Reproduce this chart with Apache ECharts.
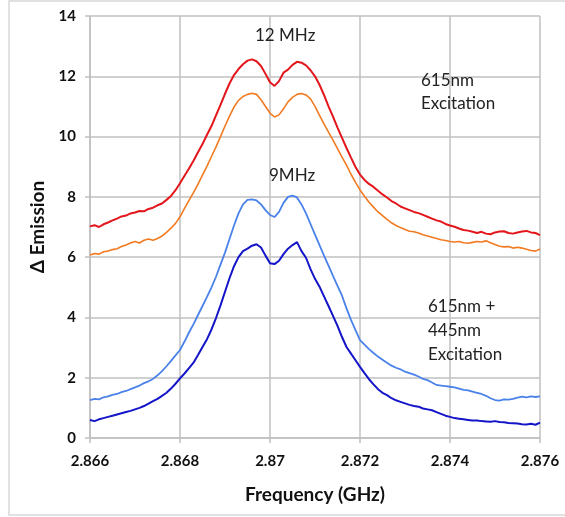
<!DOCTYPE html>
<html><head><meta charset="utf-8">
<script src="https://cdn.jsdelivr.net/npm/echarts@6/dist/echarts.min.js"></script>
<style>html,body{margin:0;padding:0;background:#fff}#c{width:565px;height:517px}</style>
</head><body><div id="c"></div>
<script>
// Frequency sampling grid (GHz)
const freqStart = 2.866;
const freqStep = 0.0001;
const nPoints = 101;
const xTicks = [2.866, 2.868, 2.87, 2.872, 2.874, 2.876];
const yTicks = [0, 2, 4, 6, 8, 10, 12, 14];

// 615nm excitation (upper pair)
const red615 = [7.02,7.06,7.00,7.09,7.15,7.22,7.28,7.35,7.38,7.45,
7.48,7.53,7.52,7.60,7.64,7.72,7.78,7.90,8.03,8.22,
8.45,8.70,8.94,9.20,9.48,9.75,10.06,10.35,10.70,11.05,
11.42,11.76,12.04,12.24,12.40,12.52,12.56,12.50,12.34,12.08,
11.80,11.68,11.84,12.12,12.22,12.38,12.48,12.45,12.36,12.20,
12.00,11.72,11.38,11.00,10.66,10.30,9.96,9.62,9.30,8.99,
8.74,8.56,8.43,8.33,8.20,8.08,7.98,7.86,7.78,7.68,
7.62,7.56,7.50,7.46,7.40,7.34,7.28,7.22,7.18,7.10,
7.05,7.01,6.95,6.90,6.88,6.84,6.80,6.84,6.78,6.76,
6.82,6.85,6.86,6.80,6.78,6.82,6.85,6.87,6.82,6.80,
6.73];
const orange615 = [6.07,6.12,6.10,6.18,6.20,6.25,6.28,6.35,6.40,6.47,
6.52,6.47,6.56,6.60,6.56,6.62,6.70,6.82,6.96,7.12,
7.34,7.62,7.88,8.14,8.42,8.72,9.02,9.34,9.66,10.00,
10.35,10.68,10.98,11.20,11.33,11.40,11.44,11.40,11.22,11.00,
10.78,10.65,10.72,10.92,11.15,11.30,11.40,11.43,11.38,11.25,
11.00,10.70,10.42,10.15,9.88,9.60,9.32,9.05,8.75,8.48,
8.23,8.02,7.82,7.66,7.50,7.38,7.25,7.14,7.05,6.98,
6.92,6.86,6.84,6.80,6.74,6.70,6.66,6.62,6.58,6.55,
6.52,6.50,6.52,6.48,6.46,6.49,6.52,6.50,6.54,6.48,
6.42,6.36,6.34,6.35,6.30,6.33,6.30,6.26,6.22,6.20,
6.27];
// 615nm + 445nm excitation (lower pair)
const lightBlue = [1.26,1.30,1.28,1.35,1.38,1.43,1.46,1.52,1.56,1.62,
1.68,1.74,1.82,1.88,1.96,2.08,2.22,2.38,2.56,2.74,
2.92,3.20,3.50,3.78,4.08,4.38,4.68,5.00,5.35,5.75,
6.15,6.60,7.05,7.45,7.75,7.90,7.92,7.88,7.75,7.56,
7.40,7.33,7.50,7.80,8.00,8.04,7.98,7.75,7.45,7.10,
6.75,6.40,6.05,5.72,5.38,5.05,4.72,4.30,3.92,3.58,
3.25,3.10,2.95,2.82,2.70,2.60,2.50,2.40,2.33,2.28,
2.20,2.15,2.10,2.04,1.96,1.92,1.84,1.76,1.74,1.72,
1.70,1.68,1.64,1.60,1.58,1.54,1.50,1.46,1.40,1.32,
1.26,1.24,1.28,1.27,1.30,1.34,1.37,1.35,1.38,1.36,
1.38];
const darkBlue = [0.60,0.56,0.62,0.66,0.70,0.74,0.78,0.82,0.86,0.90,
0.95,1.00,1.06,1.14,1.22,1.30,1.40,1.50,1.64,1.80,
1.98,2.14,2.32,2.50,2.75,3.02,3.28,3.60,3.98,4.40,
4.85,5.30,5.70,6.00,6.20,6.28,6.38,6.43,6.32,6.05,
5.80,5.77,5.88,6.10,6.28,6.40,6.50,6.20,5.98,5.60,
5.28,5.02,4.70,4.38,4.05,3.72,3.35,3.02,2.80,2.58,
2.36,2.15,1.95,1.78,1.62,1.50,1.42,1.32,1.25,1.20,
1.15,1.10,1.06,1.04,0.98,0.95,0.92,0.86,0.80,0.74,
0.70,0.66,0.64,0.62,0.60,0.58,0.58,0.56,0.55,0.54,
0.56,0.53,0.52,0.50,0.49,0.48,0.46,0.45,0.47,0.44,
0.51];

const freqs = [];
for (let i = 0; i < nPoints; i++) freqs.push(+(freqStart + i * freqStep).toFixed(4));
const pairs = arr => arr.map((v, i) => [freqs[i], v]);

const chart = echarts.init(document.getElementById('c'), null, {renderer: 'canvas'});
const FONT = 'Lato, "Open Sans", sans-serif';
const gridCol = '#c0c0c0';
function line(name, data, color, w) {
  return {name, type: 'line', data: pairs(data), showSymbol: false, symbol: 'none',
    lineStyle: {color, width: w}, itemStyle: {color}, animation: false, z: 3};
}
chart.setOption({
  animation: false,
  backgroundColor: '#fff',
  grid: {left: 90, right: 25, top: 16, bottom: 79, containLabel: false},
  xAxis: {
    type: 'value', min: xTicks[0], max: xTicks[xTicks.length - 1], interval: 0.002,
    name: 'Frequency (GHz)', nameLocation: 'middle', nameGap: 47,
    nameTextStyle: {fontFamily: FONT, fontWeight: 'bold', fontSize: 19, color: '#111'},
    axisLine: {show: true, lineStyle: {color: gridCol, width: 1.5}},
    axisTick: {show: true, length: 5, lineStyle: {color: gridCol, width: 1.5}},
    axisLabel: {margin: 16, fontFamily: FONT, fontWeight: 'bold', fontSize: 15, color: '#111',
      formatter: v => String(parseFloat((+v).toFixed(3)))},
    splitLine: {show: true, lineStyle: {color: gridCol, width: 1.5}}
  },
  yAxis: {
    type: 'value', min: yTicks[0], max: yTicks[yTicks.length - 1], interval: 2,
    name: 'Δ Emission', nameLocation: 'middle', nameGap: 38, nameRotate: 90,
    nameTextStyle: {fontFamily: FONT, fontWeight: 'bold', fontSize: 19, color: '#111'},
    axisLine: {show: true, lineStyle: {color: gridCol, width: 1.5}},
    axisTick: {show: true, length: 5, lineStyle: {color: gridCol, width: 1.5}},
    axisLabel: {margin: 14, fontFamily: FONT, fontWeight: 'bold', fontSize: 15, color: '#111'},
    splitLine: {show: true, lineStyle: {color: gridCol, width: 1.5}}
  },
  series: [
    line('615nm red', red615, '#e3161b', 2),
    line('615nm orange', orange615, '#f27b22', 1.6),
    line('615+445 light', lightBlue, '#4a82ea', 1.8),
    line('615+445 dark', darkBlue, '#1414c8', 2)
  ],
  graphic: [
    {type: 'rect', shape: {x: 9, y: 1, width: 600, height: 514}, style: {fill: 'none', stroke: '#d8d8d8', lineWidth: 1.5}, z: 0, silent: true},
    {type: 'text', left: 255, top: 27, style: {text: '12 MHz', font: '17px ' + FONT, fill: '#222'}, z: 10},
    {type: 'text', left: 421, top: 69, style: {text: '615nm\nExcitation', font: '17px ' + FONT, fill: '#222', lineHeight: 23}, z: 10},
    {type: 'text', left: 269, top: 167, style: {text: '9MHz', font: '17px ' + FONT, fill: '#222'}, z: 10},
    {type: 'text', left: 428, top: 295, style: {text: '615nm +\n445nm\nExcitation', font: '17px ' + FONT, fill: '#222', lineHeight: 24}, z: 10}
  ]
});
</script></body></html>
